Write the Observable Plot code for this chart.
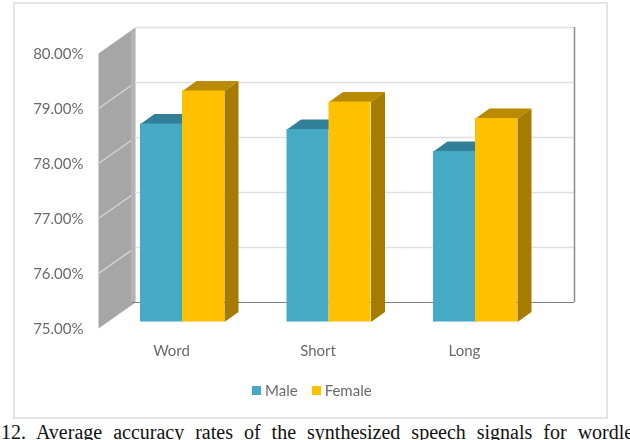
<!DOCTYPE html>
<html><head><meta charset="utf-8">
<script src="https://cdn.jsdelivr.net/npm/d3@7"></script>
<script src="https://cdn.jsdelivr.net/npm/@observablehq/plot@0.6"></script>
<style>
html,body{margin:0;padding:0;background:#fff;width:630px;height:440px;overflow:hidden}
#frame{position:absolute;left:13px;top:2px;width:591px;height:413px;border:2px solid #e4e4e4;box-sizing:content-box}
#chart{position:absolute;left:0;top:0;filter:blur(0.4px)}
#chart svg{background:transparent;display:block}
#legend{position:absolute;left:252px;top:381px;display:flex;gap:14px;font:15px Lato,sans-serif;color:#6a6a6a;align-items:center;filter:blur(0.4px)}
#legend span{display:flex;align-items:center;gap:4px}
#legend i{display:block;width:9px;height:9px}
#caption{position:absolute;left:1px;top:420px;white-space:nowrap;font:20px/24px "Liberation Serif",serif;color:#111;word-spacing:6px}
</style></head><body>
<div id="frame"></div><div id="chart"></div><div id="legend"></div>
<div id="caption">12. Average accuracy rates of the synthesized speech signals for wordle</div>
<script>
const categories = ["Word", "Short", "Long"];
const male = [78.6, 78.5, 78.1];
const female = [79.2, 79.0, 78.7];
const yTicks = [75, 76, 77, 78, 79, 80];
const seriesNames = ["Male", "Female"];
const maleFront = "#46aac4", maleTop = "#327f98";
const femaleFront = "#ffc000", femaleSide = "#a67c00", femaleTop = "#b88b00";

// oblique projection, in data units: the wall depth and the bar depth
const wallDx = 0.2526, wallDy = 0.4727;   // back wall -> front edge
const barW = 0.2867, barDx = 0.0956, barDy = 0.182;
const barFrontDrop = 0.355;               // front face of the bars sits below the back wall
const xDomain = [-0.5734, 2.6758];
const backX = xDomain[0] + wallDx;

const wall = [
  {x: xDomain[0], y: yTicks[5] - wallDy}, {x: backX, y: yTicks[5]},
  {x: backX, y: yTicks[0]}, {x: xDomain[0], y: yTicks[0] - wallDy}
];
const wallGrid = yTicks.slice(1, 5).flatMap(t => [
  {x: xDomain[0], y: t - wallDy, t}, {x: backX, y: t, t}
]);

function faces(values, side) {
  // side: 0 = left bar of the group, 1 = right bar
  return values.flatMap((v, i) => {
    const x1 = i + (side - 1) * barW, x2 = x1 + barW;
    const base = yTicks[0] - barFrontDrop, top = v - barFrontDrop;
    return [
      {id: `top${i}`, x: x1, y: top}, {id: `top${i}`, x: x2, y: top},
      {id: `top${i}`, x: x2 + barDx, y: top + barDy}, {id: `top${i}`, x: x1 + barDx, y: top + barDy},
      {id: `side${i}`, x: x2, y: top}, {id: `side${i}`, x: x2 + barDx, y: top + barDy},
      {id: `side${i}`, x: x2 + barDx, y: base + barDy}, {id: `side${i}`, x: x2, y: base}
    ];
  });
}
const fronts = (values, side) => values.map((v, i) => ({
  x1: i + (side - 1) * barW, x2: i + side * barW, y1: yTicks[0] - barFrontDrop, y2: v - barFrontDrop
}));
const tops = r => r.filter(d => d.id.startsWith("top"));
const sides = r => r.filter(d => d.id.startsWith("side"));
const poly = (data, fill) => Plot.line(data, {x: "x", y: "y", z: "id", fill, stroke: "none"});

const mf = faces(male, 0), ff = faces(female, 1);
const fontFam = 'Lato,sans-serif';

const plot = Plot.plot({
  width: 630, height: 418,
  marginLeft: 98, marginRight: 56, marginTop: 27, marginBottom: 116,
  style: {background: "transparent", color: "#6a6a6a", fontFamily: fontFam, fontSize: "15px"},
  x: {domain: xDomain, axis: null},
  y: {domain: [75, 80], axis: null},
  marks: [
    Plot.line(wall, {x: "x", y: "y", fill: "#a6a6a6", stroke: "none"}),
    Plot.line(wallGrid, {x: "x", y: "y", z: "t", stroke: "#d4d4d4", strokeWidth: 1.5}),
    Plot.ruleX([backX - 0.017], {y1: 75, y2: 79.93, stroke: "#b4b4b4", strokeWidth: 4}),
    Plot.ruleY(yTicks.slice(1), {x1: backX, x2: xDomain[1], stroke: "#e0e0e0", strokeWidth: 1.5}),
    Plot.ruleY([75], {x1: backX - 0.02, x2: xDomain[1], stroke: "#7f7f7f", strokeWidth: 1}),
    Plot.ruleX([xDomain[1]], {y1: 75, y2: 80, stroke: "#8c8c8c", strokeWidth: 1.5}),
    poly(tops(mf), maleTop),
    poly(sides(mf), maleTop),
    Plot.rect(fronts(male, 0), {x1: "x1", x2: "x2", y1: "y1", y2: "y2", fill: maleFront}),
    poly(tops(ff), femaleTop),
    poly(sides(ff), femaleSide),
    Plot.rect(fronts(female, 1), {x1: "x1", x2: "x2", y1: "y1", y2: "y2", fill: femaleFront}),
    Plot.axisY({ticks: yTicks, tickFormat: d => d.toFixed(2) + "%", tickSize: 0, tickPadding: 15,
      dy: 27, fill: "#6a6a6a", anchor: "left"}),
    Plot.axisX({ticks: [0, 1, 2], tickFormat: i => categories[i], tickSize: 0, tickPadding: 3,
      dx: -11, dy: 40, fill: "#6a6a6a", anchor: "bottom"})
  ]
});
document.getElementById("chart").append(plot);

const legend = document.getElementById("legend");
[[seriesNames[0], maleFront], [seriesNames[1], femaleFront]].forEach(([n, c]) => {
  const s = document.createElement("span");
  s.innerHTML = `<i style="background:${c}"></i>${n}`;
  legend.append(s);
});
</script>
</body></html>
